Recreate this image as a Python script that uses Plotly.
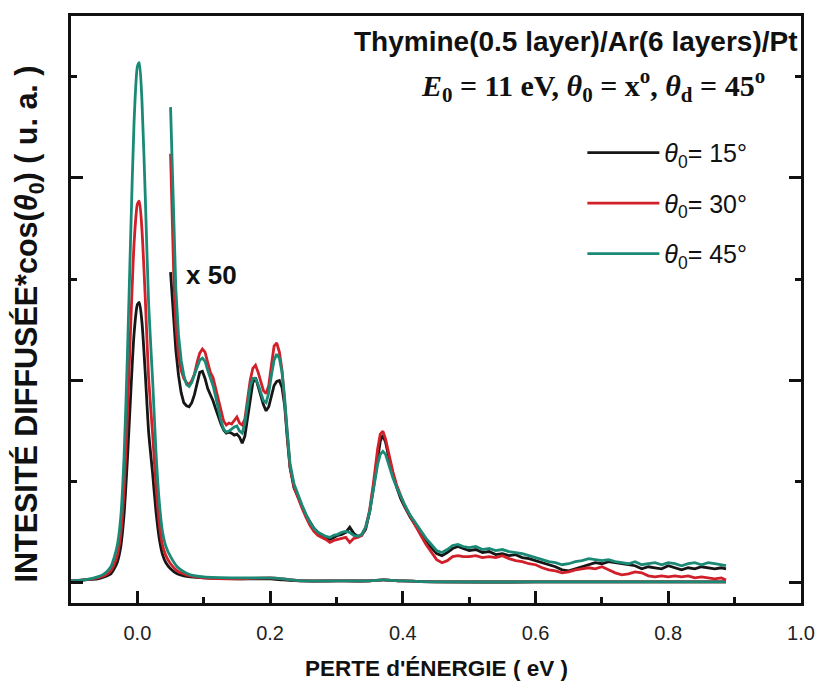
import plotly.graph_objects as go

# ---- main (unscaled) spectra ----
energy_main = [-0.100, -0.080, -0.060, -0.050, -0.040, -0.035, -0.030, -0.025, -0.020, -0.015,
               -0.010, -0.005, 0.000, 0.003, 0.007, 0.012, 0.017, 0.023, 0.028, 0.033,
               0.038, 0.043, 0.050, 0.060, 0.070, 0.080, 0.100, 0.150, 0.200, 0.220,
               0.250, 0.300, 0.350, 0.370, 0.400, 0.450, 0.600, 0.750, 0.887]
main_15 = [0.02, 0.03, 0.04, 0.06, 0.09, 0.14, 0.21, 0.36, 0.68, 1.22,
           1.87, 2.46, 2.75, 2.77, 2.57, 2.06, 1.49, 1.08, 0.71, 0.44,
           0.28, 0.20, 0.14, 0.09, 0.07, 0.06, 0.05, 0.04, 0.04, 0.03,
           0.02, 0.02, 0.02, 0.03, 0.02, 0.01, 0.01, 0.01, 0.01]
main_30 = [0.02, 0.03, 0.05, 0.07, 0.12, 0.18, 0.28, 0.48, 0.92, 1.65,
           2.55, 3.35, 3.74, 3.77, 3.48, 2.80, 2.02, 1.47, 0.96, 0.59,
           0.37, 0.27, 0.19, 0.12, 0.09, 0.07, 0.05, 0.04, 0.05, 0.04,
           0.02, 0.02, 0.02, 0.03, 0.02, 0.01, 0.01, 0.01, 0.01]
main_45 = [0.02, 0.03, 0.06, 0.09, 0.16, 0.25, 0.38, 0.65, 1.25, 2.25,
           3.45, 4.55, 5.10, 5.14, 4.75, 3.80, 2.75, 2.00, 1.30, 0.80,
           0.50, 0.36, 0.26, 0.16, 0.11, 0.08, 0.06, 0.05, 0.05, 0.04,
           0.02, 0.02, 0.02, 0.03, 0.02, 0.01, 0.01, 0.01, 0.01]

# ---- x 50 magnified spectra ----
energy_x50 = [0.050, 0.052, 0.055, 0.058, 0.062, 0.066, 0.070, 0.074, 0.078, 0.082,
              0.086, 0.090, 0.094, 0.098, 0.102, 0.106, 0.110, 0.114, 0.118, 0.122,
              0.126, 0.130, 0.134, 0.138, 0.142, 0.146, 0.150, 0.154, 0.158, 0.162,
              0.166, 0.170, 0.174, 0.178, 0.182, 0.186, 0.190, 0.194, 0.198, 0.202,
              0.206, 0.210, 0.214, 0.218, 0.222, 0.226, 0.230, 0.236, 0.242, 0.248,
              0.254, 0.260, 0.266, 0.272, 0.278, 0.284, 0.290, 0.296, 0.302, 0.308,
              0.314, 0.320, 0.326, 0.332, 0.338, 0.344, 0.350, 0.356, 0.362, 0.366,
              0.370, 0.374, 0.379, 0.385, 0.391, 0.397, 0.403, 0.411, 0.419, 0.427,
              0.435, 0.443, 0.451, 0.459, 0.467, 0.475, 0.483, 0.491, 0.500, 0.510,
              0.520, 0.530, 0.540, 0.550, 0.560, 0.570, 0.580, 0.590, 0.600, 0.610,
              0.620, 0.630, 0.640, 0.650, 0.660, 0.670, 0.680, 0.690, 0.700, 0.710,
              0.720, 0.730, 0.740, 0.750, 0.760, 0.770, 0.780, 0.790, 0.800, 0.810,
              0.820, 0.830, 0.840, 0.850, 0.860, 0.870, 0.880, 0.887]
x50_15 = [3.07, 2.90, 2.55, 2.30, 2.05, 1.88, 1.78, 1.75, 1.74, 1.78,
          1.86, 1.98, 2.08, 2.09, 2.02, 1.92, 1.86, 1.80, 1.72, 1.64,
          1.57, 1.51, 1.48, 1.49, 1.48, 1.46, 1.47, 1.44, 1.38, 1.45,
          1.62, 1.82, 1.98, 2.03, 1.95, 1.85, 1.76, 1.70, 1.74, 1.86,
          1.95, 1.99, 2.00, 1.93, 1.75, 1.42, 1.14, 0.94, 0.84, 0.76,
          0.67, 0.60, 0.54, 0.50, 0.47, 0.45, 0.43, 0.45, 0.47, 0.48,
          0.50, 0.55, 0.49, 0.46, 0.47, 0.53, 0.70, 0.95, 1.25, 1.40,
          1.46, 1.39, 1.24, 1.07, 0.94, 0.83, 0.75, 0.65, 0.57, 0.49,
          0.42, 0.35, 0.29, 0.27, 0.30, 0.34, 0.36, 0.34, 0.32, 0.33,
          0.30, 0.31, 0.28, 0.29, 0.27, 0.28, 0.25, 0.24, 0.22, 0.20,
          0.18, 0.16, 0.13, 0.12, 0.14, 0.16, 0.18, 0.20, 0.19, 0.21,
          0.20, 0.19, 0.18, 0.17, 0.14, 0.16, 0.15, 0.14, 0.17, 0.15,
          0.13, 0.15, 0.14, 0.16, 0.15, 0.14, 0.15, 0.14]
x50_30 = [4.24, 3.70, 3.00, 2.55, 2.25, 2.10, 2.02, 1.98, 1.96, 2.00,
          2.06, 2.18, 2.27, 2.31, 2.28, 2.18, 2.08, 2.03, 1.92, 1.80,
          1.68, 1.60, 1.56, 1.58, 1.57, 1.60, 1.64, 1.58, 1.56, 1.62,
          1.80, 2.00, 2.12, 2.15, 2.08, 1.98, 1.90, 1.87, 1.95, 2.15,
          2.34, 2.37, 2.28, 2.10, 1.80, 1.45, 1.15, 0.95, 0.84, 0.74,
          0.65, 0.57, 0.51, 0.47, 0.45, 0.43, 0.40, 0.42, 0.43, 0.44,
          0.45, 0.40, 0.44, 0.45, 0.47, 0.55, 0.72, 1.00, 1.32, 1.47,
          1.50, 1.42, 1.27, 1.10, 0.96, 0.85, 0.76, 0.66, 0.56, 0.47,
          0.38, 0.30, 0.23, 0.20, 0.22, 0.26, 0.27, 0.26, 0.26, 0.27,
          0.25, 0.26, 0.25, 0.27, 0.24, 0.22, 0.21, 0.19, 0.18, 0.15,
          0.13, 0.12, 0.10, 0.11, 0.13, 0.14, 0.15, 0.14, 0.16, 0.13,
          0.10, 0.08, 0.09, 0.11, 0.10, 0.07, 0.06, 0.07, 0.06, 0.07,
          0.06, 0.07, 0.05, 0.06, 0.05, 0.04, 0.05, 0.03]
x50_45 = [4.70, 4.20, 3.50, 2.90, 2.45, 2.20, 2.05, 1.96, 1.94, 1.98,
          2.06, 2.14, 2.20, 2.22, 2.19, 2.10, 2.02, 1.95, 1.84, 1.72,
          1.60, 1.52, 1.49, 1.50, 1.52, 1.54, 1.55, 1.50, 1.48, 1.58,
          1.76, 1.94, 2.02, 2.02, 1.96, 1.88, 1.80, 1.78, 1.88, 2.05,
          2.20, 2.26, 2.22, 2.08, 1.82, 1.48, 1.18, 0.98, 0.87, 0.77,
          0.68, 0.60, 0.54, 0.50, 0.48, 0.46, 0.45, 0.47, 0.48, 0.50,
          0.51, 0.50, 0.47, 0.46, 0.48, 0.55, 0.70, 0.95, 1.17, 1.27,
          1.30, 1.27, 1.16, 1.04, 0.94, 0.85, 0.77, 0.67, 0.59, 0.51,
          0.44, 0.38, 0.32, 0.30, 0.33, 0.37, 0.38, 0.36, 0.35, 0.36,
          0.33, 0.34, 0.32, 0.33, 0.31, 0.30, 0.29, 0.27, 0.25, 0.23,
          0.21, 0.20, 0.18, 0.19, 0.21, 0.22, 0.24, 0.23, 0.22, 0.23,
          0.21, 0.20, 0.19, 0.21, 0.18, 0.19, 0.20, 0.18, 0.20, 0.19,
          0.17, 0.19, 0.20, 0.18, 0.20, 0.19, 0.18, 0.17]

angles = ["15", "30", "45"]
colors = ["#161616", "#d1202a", "#1a8a76"]
mains = [main_15, main_30, main_45]
mags = [x50_15, x50_30, x50_45]

x_ticks = [0.0, 0.2, 0.4, 0.6, 0.8, 1.0]
x_tick_labels = ["0.0", "0.2", "0.4", "0.6", "0.8", "1.0"]

SANS = "Liberation Sans, Arial, sans-serif"
SERIF = "Liberation Serif, Times New Roman, serif"

fig = go.Figure()
for ang, col, ym in zip(angles, colors, mains):
    fig.add_trace(go.Scatter(x=energy_main, y=ym, mode="lines",
                             line=dict(color=col, width=2.8, shape="spline", smoothing=0.6),
                             showlegend=False, hoverinfo="skip"))
for ang, col, ym in zip(angles, colors, mags):
    fig.add_trace(go.Scatter(x=energy_x50, y=ym, mode="lines",
                             line=dict(color=col, width=2.8),
                             name="<i>θ</i><sub>0</sub>= " + ang + "°",
                             legendgroup=ang, showlegend=True))

fig.update_layout(
    width=827, height=689,
    margin=dict(l=71, r=21, t=16, b=86),
    paper_bgcolor="white", plot_bgcolor="white",
    font=dict(family=SANS, color="#111111"),
    legend=dict(x=0.7005, y=0.806, xanchor="left", yanchor="top",
                bgcolor="rgba(0,0,0,0)", font=dict(size=25, family=SANS),
                tracegroupgap=15, itemwidth=72),
    annotations=[
        dict(xref="paper", yref="paper", x=0.999, y=0.956, xanchor="right", yanchor="middle",
             text="<b>Thymine(0.5 layer)/Ar(6 layers)/Pt</b>", showarrow=False,
             font=dict(size=28, family=SANS)),
        dict(xref="paper", yref="paper", x=0.954, y=0.882, xanchor="right", yanchor="middle",
             text="<b><i>E</i><sub>0</sub> = 11 eV, <i>θ</i><sub>0</sub> = x<sup>o</sup>, "
                  "<i>θ</i><sub>d</sub> = 45<sup>o</sup></b>", showarrow=False,
             font=dict(size=30, family=SERIF)),
        dict(xref="x", yref="y", x=0.112, y=3.04, xanchor="center", yanchor="middle",
             text="<b>x 50</b>", showarrow=False,
             font=dict(size=26, family=SANS)),
        dict(xref="paper", yref="paper", x=0.5, y=-0.111, xanchor="center", yanchor="middle",
             text="<b>PERTE d'ÉNERGIE ( eV )</b>", showarrow=False,
             font=dict(size=22.5, family=SANS)),
        dict(xref="paper", yref="paper", x=-0.0585, y=0.475, xanchor="center", yanchor="middle",
             textangle=-90, text="<b>INTESITÉ DIFFUSÉE*cos(<i>θ</i><sub>0</sub>) ( u. a. )</b>",
             showarrow=False, font=dict(size=30.5, family=SANS)),
    ],
)

fig.update_xaxes(range=[-0.1, 1.0], tickvals=x_ticks, ticktext=x_tick_labels,
                 ticks="inside", ticklen=12, tickwidth=2.5, tickcolor="#111",
                 minor=dict(dtick=0.1, tick0=0.0, ticks="inside", ticklen=6, tickwidth=2.5, tickcolor="#111"),
                 showline=True, linewidth=2.5, linecolor="#111", mirror=True,
                 showgrid=False, zeroline=False, ticklabelstandoff=10,
                 tickfont=dict(size=20, family=SANS, color="#222"))
fig.update_yaxes(range=[-0.198, 5.6], tick0=0, dtick=2, showticklabels=False,
                 ticks="inside", ticklen=12, tickwidth=2.5, tickcolor="#111",
                 minor=dict(dtick=1, tick0=0, ticks="inside", ticklen=6, tickwidth=2.5, tickcolor="#111"),
                 showline=True, linewidth=2.5, linecolor="#111", mirror="allticks",
                 showgrid=False, zeroline=False)

fig.write_html("out.html")
